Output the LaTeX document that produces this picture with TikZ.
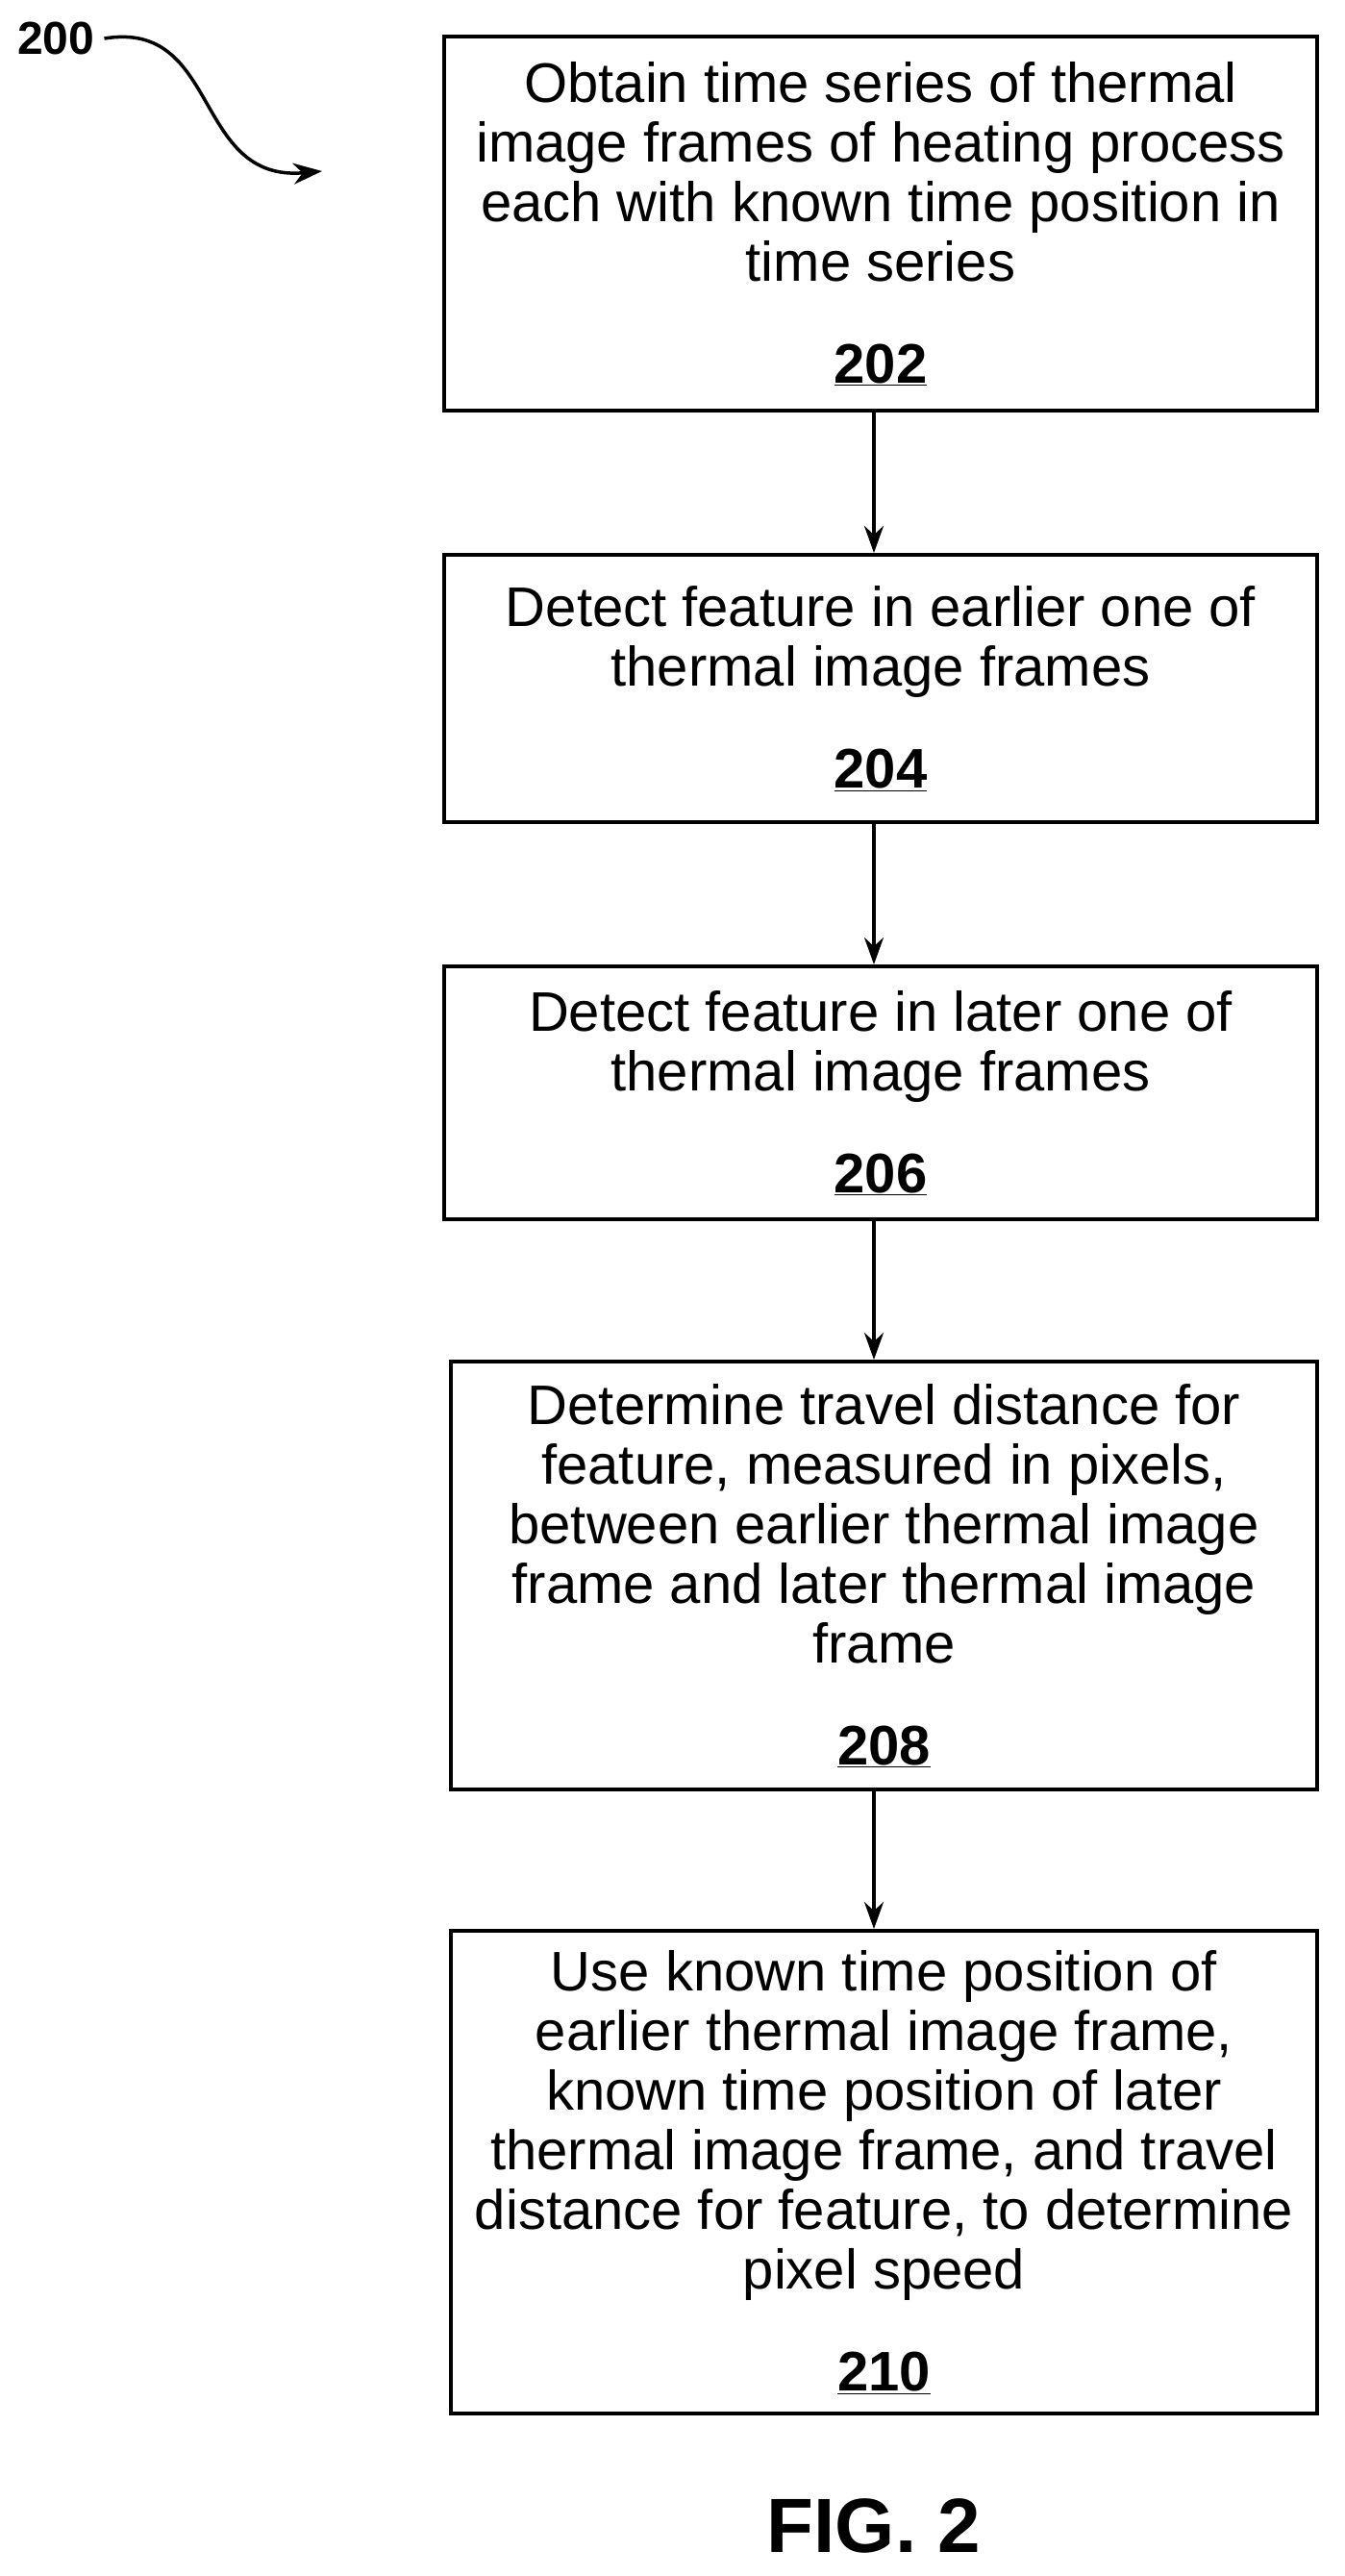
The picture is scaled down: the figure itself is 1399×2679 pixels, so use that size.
\documentclass[tikz,border=0pt]{standalone}
\usepackage{fontspec}
\setmainfont{Liberation Sans}
\usetikzlibrary{arrows.meta}
\begin{document}
\begin{tikzpicture}[x=1pt,y=-1pt,
  stepbox/.style={draw,line width=4pt,align=center,inner sep=0pt,
    font=\fontsize{58}{62}\selectfont},
  conn/.style={line width=3.5pt,-{Stealth[length=28pt,width=20pt]}}]
\useasboundingbox (0,0) rectangle (1399,2679);
\newcommand{\refnum}[1]{\textbf{\underline{#1}}}
\node[stepbox,minimum width=908pt,minimum height=389pt] (b202) at (916,232.5)
 {Obtain time series of thermal\\image frames of heating process\\each with known time position in\\time series\\[44pt]\refnum{202}};
\node[stepbox,minimum width=908pt,minimum height=278pt] (b204) at (916,716)
 {Detect feature in earlier one of\\thermal image frames\\[44pt]\refnum{204}};
\node[stepbox,minimum width=908pt,minimum height=263pt] (b206) at (916,1136.5)
 {Detect feature in later one of\\thermal image frames\\[44pt]\refnum{206}};
\node[stepbox,minimum width=901pt,minimum height=445pt] (b208) at (919.5,1638.5)
 {Determine travel distance for\\feature, measured in pixels,\\between earlier thermal image\\frame and later thermal image\\frame\\[44pt]\refnum{208}};
\node[stepbox,minimum width=901pt,minimum height=502pt] (b210) at (919.5,2259)
 {Use known time position of\\earlier thermal image frame,\\known time position of later\\thermal image frame, and travel\\distance for feature, to determine\\pixel speed\\[44pt]\refnum{210}};
\draw[conn] (b202.south -| 909,0) -- (b204.north -| 909,0);
\draw[conn] (b204.south -| 909,0) -- (b206.north -| 909,0);
\draw[conn] (b206.south -| 909,0) -- (b208.north -| 909,0);
\draw[conn] (b208.south -| 909,0) -- (b210.north -| 909,0);
\node[font=\fontsize{80}{90}\selectfont\bfseries] (fig) at (909,2627) {FIG. 2};
\node[font=\fontsize{48}{56}\selectfont\bfseries,anchor=west,inner sep=0pt] (n200) at (18,40) {200};
\coordinate (tip) at (335,178);
\draw[line width=3.5pt,-{Stealth[length=30pt,width=22pt]}] (n200.east) ++(10,0) .. controls (230,20) and (200,190) .. (tip);
\end{tikzpicture}
\end{document}
